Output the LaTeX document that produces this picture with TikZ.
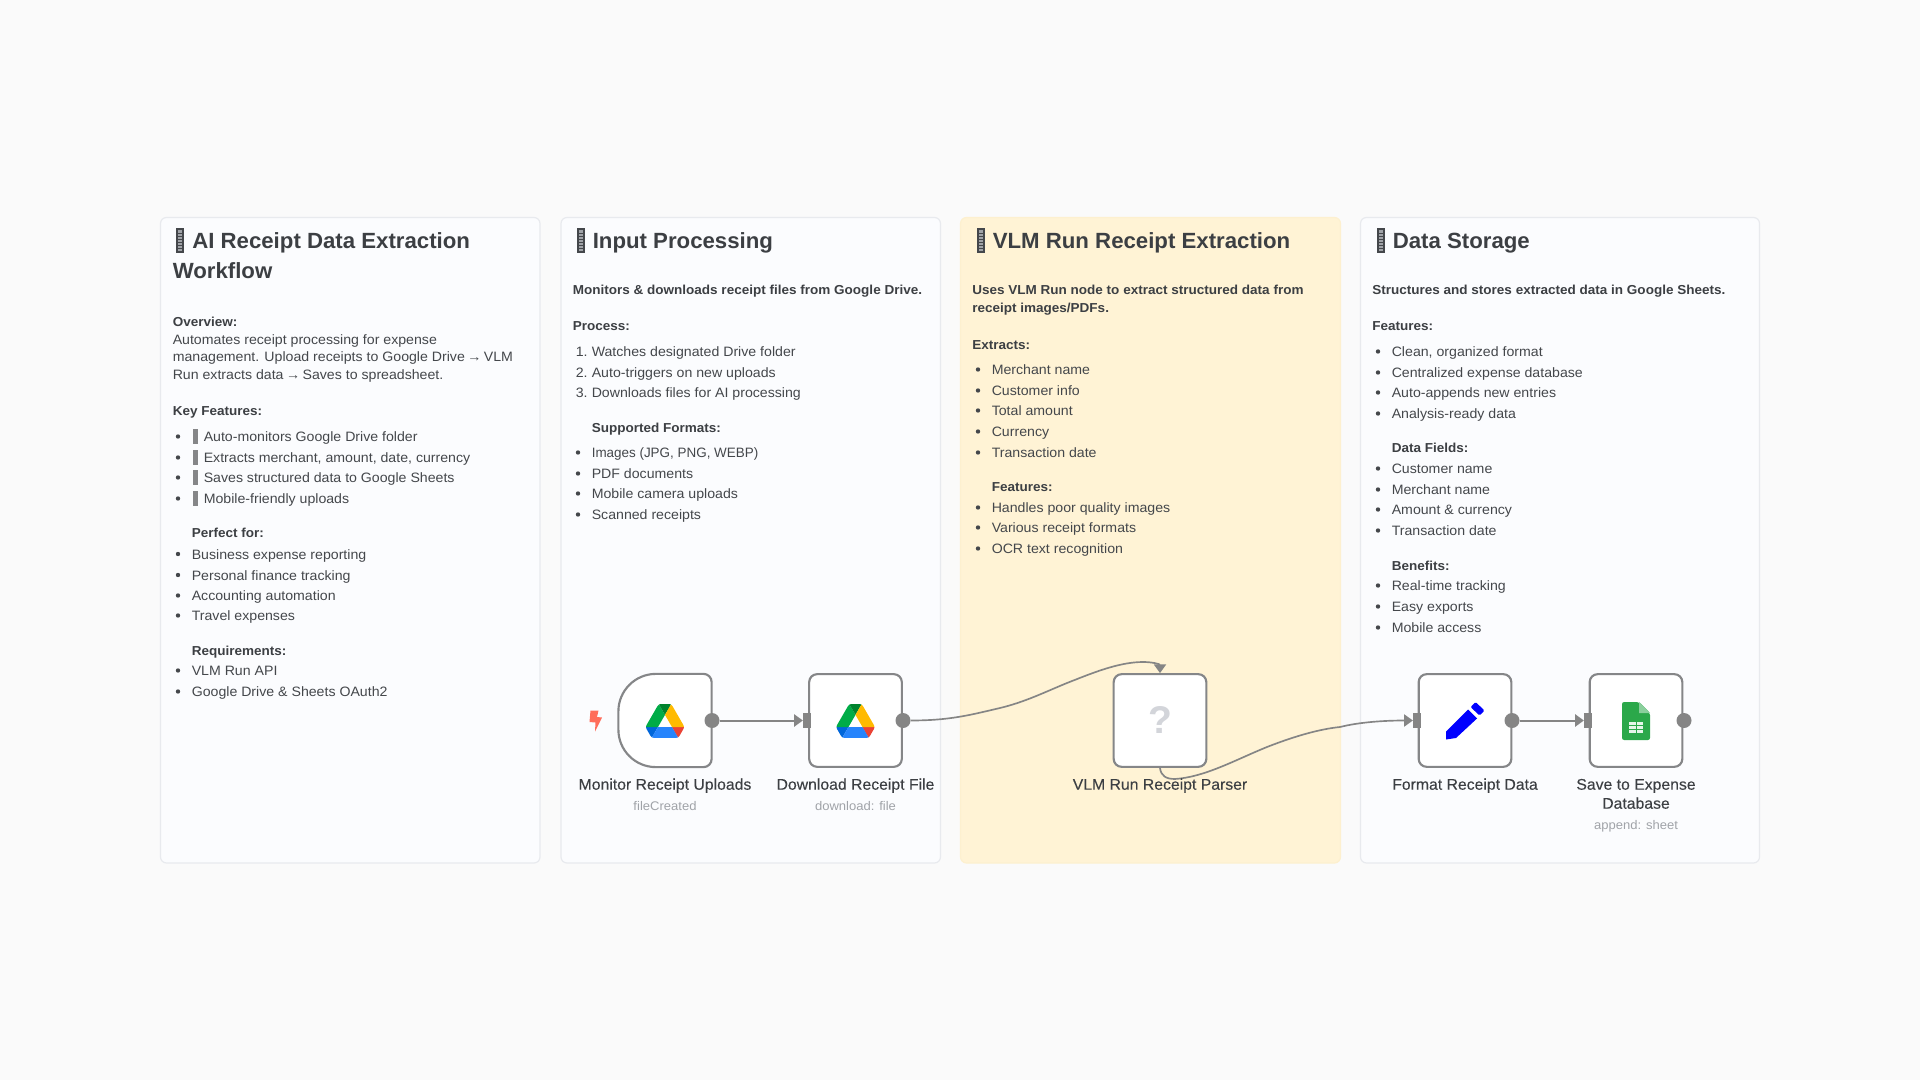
\documentclass[tikz,border=0pt]{standalone}
\usepackage{fontspec}
\usetikzlibrary{arrows.meta}
\setmainfont{Liberation Sans}
\newfontfamily\fbody[FakeStretch=1.04]{Liberation Sans}
\newfontfamily\fmed[FakeStretch=1.02,FakeBold=0.12]{Liberation Sans}
\newfontfamily\fbold[FakeStretch=1.04]{Liberation Sans Bold}
\newfontfamily\ftitle[FakeStretch=1.01]{Liberation Sans Bold}
\definecolor{bgc}{HTML}{FAFAFA}
\definecolor{panelc}{HTML}{FBFCFE}
\definecolor{panelb}{HTML}{E8EAEE}
\definecolor{yelc}{HTML}{FFF3D5}
\definecolor{yelb}{HTML}{FDF0CF}
\definecolor{inkc}{HTML}{44474B}
\definecolor{titlec}{HTML}{3C3F43}
\definecolor{subc}{HTML}{A0A3A8}
\definecolor{wirec}{HTML}{858585}
\definecolor{boxc}{HTML}{858688}
\definecolor{qc}{HTML}{D3D5DA}
\definecolor{sheetc}{HTML}{2BA84A}
\definecolor{boltc}{HTML}{FF6D5A}
\definecolor{drA}{HTML}{0066DA}
\definecolor{drB}{HTML}{00AC47}
\definecolor{drC}{HTML}{EA4335}
\definecolor{drD}{HTML}{00832D}
\definecolor{drE}{HTML}{2684FC}
\definecolor{drF}{HTML}{FFBA00}
\newlength{\pxu}\setlength{\pxu}{0.75pt}
\newcounter{tln}
% the missing-glyph boxes of the reference
\newcommand{\tofustripe}[1]{\rlap{\hspace{-6\pxu}\color{inkc}\raisebox{#1\pxu}{\rule{4\pxu}{1\pxu}}}}
\newcommand{\tofuA}{{\color{inkc}\rule[-4\pxu]{8\pxu}{25\pxu}}\rlap{\hspace{-6\pxu}\color{subc}\raisebox{-2\pxu}{\rule{4\pxu}{21\pxu}}}\tofustripe{0}\tofustripe{3}\tofustripe{6}\tofustripe{9}\tofustripe{12}\tofustripe{15}}
\newcommand{\tofuB}{\hspace{1\pxu}{\color{boxc}\rule[-2\pxu]{5\pxu}{15\pxu}}}
\newcommand{\ttl}[3]{\stepcounter{tln}\node[titletxt] (t\thetln) at (#1,#2+0.6) {#3};}
\newcommand{\bd}[3]{\stepcounter{tln}\node[boldtxt] (t\thetln) at (#1-0.5,#2+0.7) {#3};}
\newcommand{\tx}[3]{\stepcounter{tln}\node[bodytxt] (t\thetln) at (#1-0.5,#2+0.7) {#3};}
\newcommand{\itm}[3]{\fill[inkc] (#1-14,#2-4.5) circle (2.2);\tx{#1}{#2}{#3}}
\newcommand{\driveicon}[2]{%
\begin{scope}[shift={(#1,#2)},x=0.326pt,y=-0.326pt]
\fill[fill=drA] (6.6,66.85) -- (10.45,73.5) .. controls (11.25,74.9) and (12.4,76) .. (13.75,76.8) -- (27.5,53) -- (0,53) .. controls (0,54.55) and (.4,56.1) .. (1.2,57.5) -- cycle;
\fill[fill=drB] (43.65,25) -- (29.9,1.2) .. controls (28.55,2) and (27.4,3.1) .. (26.6,4.5) -- (1.2,48.5) .. controls (.4,49.9) and (0,51.45) .. (0,53) -- (27.5,53) -- cycle;
\fill[fill=drC] (73.55,76.8) .. controls (74.9,76) and (76.05,74.9) .. (76.85,73.5) -- (78.45,70.75) -- (86.1,57.5) .. controls (86.9,56.1) and (87.3,54.55) .. (87.3,53) -- (59.8,53) -- (65.65,64.5) -- cycle;
\fill[fill=drD] (43.65,25) -- (57.4,1.2) .. controls (56.05,.4) and (54.5,0) .. (52.9,0) -- (34.4,0) .. controls (32.8,0) and (31.25,.45) .. (29.9,1.2) -- cycle;
\fill[fill=drE] (59.8,53) -- (27.5,53) -- (13.75,76.8) .. controls (15.1,77.6) and (16.65,78) .. (18.25,78) -- (69.05,78) .. controls (70.65,78) and (72.2,77.55) .. (73.55,76.8) -- cycle;
\fill[fill=drF] (73.4,26.5) -- (60.7,4.5) .. controls (59.9,3.1) and (58.75,2) .. (57.4,1.2) -- (43.65,25) -- (59.8,53) -- (87.25,53) .. controls (87.25,51.45) and (86.85,49.9) .. (86.05,48.5) -- cycle;
\end{scope}}
\tikzset{
 panel/.style={draw=panelb,fill=panelc,line width=0.9pt,rounded corners=4.5pt},
 ypanel/.style={draw=yelb,fill=yelc,line width=0.9pt,rounded corners=4.5pt},
 titletxt/.style={anchor=base west,inner sep=0pt,text=titlec,font=\ftitle\fontsize{16.5pt}{20pt}\selectfont},
 boldtxt/.style={anchor=base west,inner sep=0pt,text=titlec,font=\fbold\fontsize{9.75pt}{12pt}\selectfont},
 bodytxt/.style={anchor=base west,inner sep=0pt,text=inkc,font=\fbody\fontsize{10.2pt}{12pt}\selectfont},
 nodebox/.style={draw=boxc,fill=white,line width=1.6pt,rounded corners=6pt,minimum size=69.5pt,inner sep=0pt},
 nodeghost/.style={minimum size=69.5pt,inner sep=0pt},
 outport/.style={circle,fill=wirec,minimum size=11.25pt,inner sep=0pt},
 inport/.style={fill=wirec,minimum width=5.8pt,minimum height=11.5pt,inner sep=0pt},
 wire/.style={draw=wirec,line width=1.5pt,-{Triangle[length=6.5pt,width=9pt]}},
 curvewire/.style={draw=wirec,line width=1.25pt,-{Triangle[length=6.5pt,width=9pt]}},
 nlabel/.style={anchor=base,inner sep=0pt,text=titlec,align=center,font=\fmed\fontsize{11.6pt}{14pt}\selectfont},
 nsub/.style={anchor=base,inner sep=0pt,text=subc,font=\fbody\fontsize{9.4pt}{11pt}\selectfont},
}
\begin{document}
\begin{tikzpicture}[x=0.75pt,y=-0.75pt]
\useasboundingbox (0,0) rectangle (1920,1080);
\fill[bgc] (0,0) rectangle (1920,1080);
% panels
\draw[panel] (160.5,217.5) rectangle (540,863);
\draw[panel] (561,217.5) rectangle (940.5,863);
\draw[ypanel] (960.5,217.5) rectangle (1340.5,863);
\draw[panel] (1360.5,217.5) rectangle (1759.5,863);
% panel 1
\ttl{176}{248}{\tofuA\hspace{8\pxu}AI Receipt Data Extraction}
\ttl{172.5}{278}{Workflow}
\bd{173}{326}{Overview:}
\tx{173}{344}{Automates receipt processing for expense}
\tx{173}{361}{management. Upload receipts to Google Drive\hspace{-1.5\pxu} → \hspace{-1.5\pxu}VLM}
\tx{173}{379}{Run extracts data\hspace{-1.5\pxu} → \hspace{-1.5\pxu}Saves to spreadsheet.}
\bd{173}{415}{Key Features:}
\itm{192}{441}{\tofuB\hspace{6\pxu}Auto-monitors Google Drive folder}
\itm{192}{462}{\tofuB\hspace{6\pxu}Extracts merchant, amount, date, currency}
\itm{192}{482}{\tofuB\hspace{6\pxu}Saves structured data to Google Sheets}
\itm{192}{503}{\tofuB\hspace{6\pxu}Mobile-friendly uploads}
\bd{192}{537}{Perfect for:}
\itm{192}{558.5}{Business expense reporting}
\itm{192}{579.5}{Personal finance tracking}
\itm{192}{600}{Accounting automation}
\itm{192}{620}{Travel expenses}
\bd{192}{655}{Requirements:}
\itm{192}{675}{VLM Run API}
\itm{192}{696}{Google Drive \& Sheets OAuth2}
% panel 2
\ttl{576.5}{248}{\tofuA\hspace{8\pxu}Input Processing}
\bd{573}{294}{Monitors \& downloads receipt files from Google Drive.}
\bd{573}{330}{Process:}
\tx{576}{356}{1.}\tx{592}{356}{Watches designated Drive folder}
\tx{576}{377}{2.}\tx{592}{377}{Auto-triggers on new uploads}
\tx{576}{397}{3.}\tx{592}{397}{Downloads files for AI processing}
\bd{592}{432}{Supported Formats:}
\itm{592}{457}{\scalebox{0.95}[1]{Images (JPG, PNG, WEBP)}}
\itm{592}{478}{PDF documents}
\itm{592}{498}{Mobile camera uploads}
\itm{592}{519}{Scanned receipts}
% panel 3
\ttl{976.5}{248}{\tofuA\hspace{8\pxu}VLM Run Receipt Extraction}
\bd{972.5}{294}{Uses VLM Run node to extract structured data from}
\bd{972.5}{312}{receipt images/PDFs.}
\bd{972.5}{349}{Extracts:}
\itm{992}{374}{Merchant name}
\itm{992}{395}{Customer info}
\itm{992}{415}{Total amount}
\itm{992}{436}{Currency}
\itm{992}{457}{Transaction date}
\bd{992}{491}{Features:}
\itm{992}{512}{Handles poor quality images}
\itm{992}{532}{Various receipt formats}
\itm{992}{553}{OCR text recognition}
% panel 4
\ttl{1376.5}{248}{\tofuA\hspace{8\pxu}Data Storage}
\bd{1372.5}{294}{Structures and stores extracted data in Google Sheets.}
\bd{1372.5}{330}{Features:}
\itm{1392}{356}{Clean, organized format}
\itm{1392}{377}{Centralized expense database}
\itm{1392}{397}{Auto-appends new entries}
\itm{1392}{418}{Analysis-ready data}
\bd{1392}{452}{Data Fields:}
\itm{1392}{473}{Customer name}
\itm{1392}{494}{Merchant name}
\itm{1392}{514}{Amount \& currency}
\itm{1392}{535}{Transaction date}
\bd{1392}{570}{Benefits:}
\itm{1392}{590}{Real-time tracking}
\itm{1392}{611}{Easy exports}
\itm{1392}{632}{Mobile access}
% workflow boxes
\node[nodeghost] (mon) at (665,720.5) {};
\draw[draw=boxc,fill=white,line width=1.6pt]
 ([xshift=-6pt]mon.north east) -- ([xshift=28pt]mon.north west)
 .. controls +(-15.4pt,0) and +(0,15.4pt) .. ([yshift=-28pt]mon.north west)
 -- ([yshift=28pt]mon.south west)
 .. controls +(0,-15.4pt) and +(-15.4pt,0) .. ([xshift=28pt]mon.south west)
 -- ([xshift=-6pt]mon.south east)
 .. controls +(3.3pt,0) and +(0,-3.3pt) .. ([yshift=6pt]mon.south east)
 -- ([yshift=-6pt]mon.north east)
 .. controls +(0,3.3pt) and +(3.3pt,0) .. cycle;
\node[nodebox] (dl) at (855.5,720.5) {};
\node[nodebox] (parser) at (1160,720.5) {};
\node[nodebox] (fmt) at (1465,720.5) {};
\node[nodebox] (save) at (1636,720.5) {};
% icons
\fill[boltc] (590.5,710.5) -- (598.5,710.5) -- (597,717) -- (602,717.5) -- (595,731.5) -- (595.5,722.5) -- (589.5,722) -- cycle;
\driveicon{646}{704}
\driveicon{836.5}{704}
\node[inner sep=0pt,text=qc,font=\ftitle\fontsize{29pt}{30pt}\selectfont] (qm) at (1160,720) {?};
\fill[blue] (1446,739.5) -- (1446,731.5) -- (1468,709.5) -- (1477,718.5) -- (1456,738) -- cycle;
\fill[blue,rounded corners=1pt] (1470.5,707) -- (1475.5,702) -- (1484.5,710.5) -- (1479.5,715.5) -- cycle;
\fill[sheetc,rounded corners=1.6pt] (1622,702) -- (1639,702) -- (1650,713) -- (1650,740) -- (1622,740) -- cycle;
\fill[sheetc!55!white] (1639,702) -- (1650,713) -- (1639,713) -- cycle;
\fill[white!88!sheetc] (1629,722) rectangle (1643,733);
\draw[sheetc,line width=0.7pt] (1636,722) -- (1636,733) (1629,725.7) -- (1643,725.7) (1629,729.3) -- (1643,729.3);
% ports
\node[outport] (monout) at (712,720.5) {};
\node[inport] (dlin) at (807,720.5) {};
\node[outport] (dlout) at (903,720.5) {};
\node[inport] (fmtin) at (1417,720.5) {};
\node[outport] (fmtout) at (1512,720.5) {};
\node[inport] (savein) at (1588,720.5) {};
\node[outport] (saveout) at (1684,720.5) {};
% connectors
\draw[wire] (monout) -- (dlin);
\draw[wire] (fmtout) -- (savein);
\draw[curvewire] (dlout.east) .. controls (950,720.5) and (970,715) .. (1000,708) .. controls (1025,702) and (1045,692) .. (1067,683) .. controls (1090,674) and (1118,662) .. (1143,662) .. controls (1152,662) and (1160,664) .. (parser.north);
\draw[curvewire] (parser.south) .. controls (1161,776) and (1166,779) .. (1175,779) .. controls (1205,777) and (1235,760) .. (1267,747) .. controls (1295,736) and (1320,729) .. (1340,727) .. controls (1360,722) and (1385,720.5) .. (fmtin.west);
% labels
\node[nlabel] (l1) at (665,789.7) {Monitor Receipt Uploads};
\node[nsub] (s1) at (665,810) {fileCreated};
\node[nlabel] (l2) at (855.5,789.7) {Download Receipt File};
\node[nsub] (s2) at (855.5,810) {download: file};
\node[nlabel] (l3) at (1160,789.7) {VLM Run Receipt Parser};
\node[nlabel] (l4) at (1465,789.7) {Format Receipt Data};
\node[nlabel] (l5a) at (1636,789.7) {Save to Expense};
\node[nlabel] (l5b) at (1636,808.7) {Database};
\node[nsub] (s5) at (1636,829) {append: sheet};
\end{tikzpicture}
\end{document}
